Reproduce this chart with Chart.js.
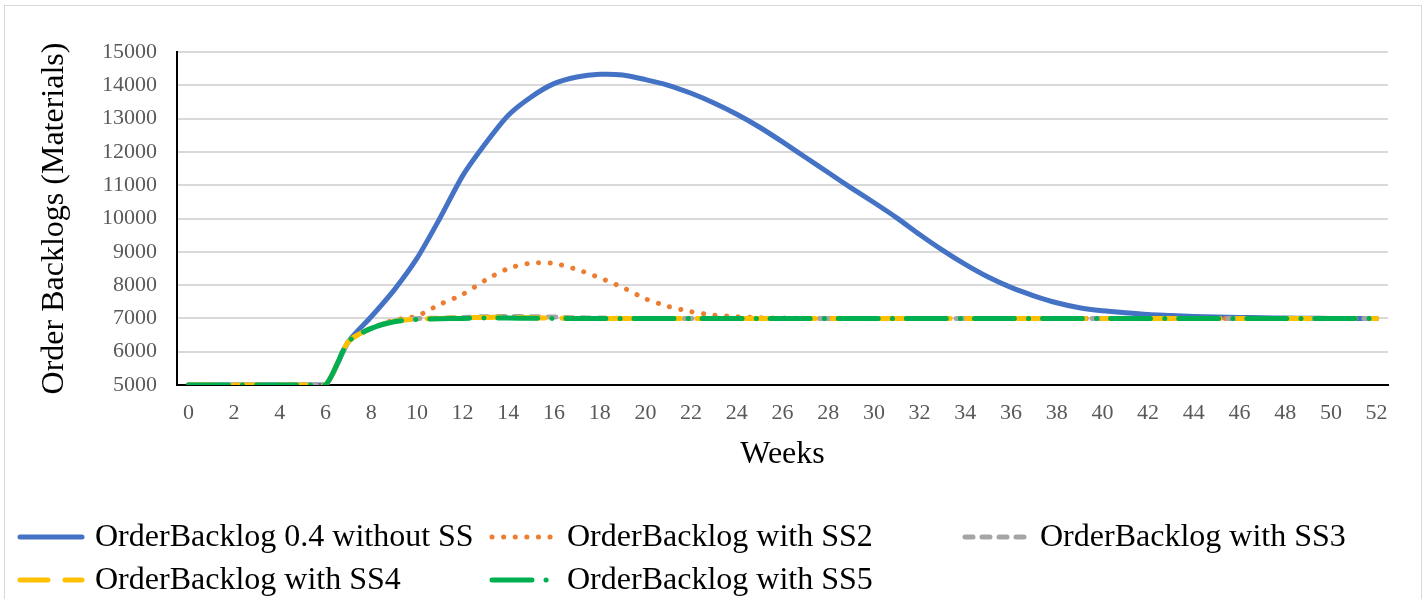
<!DOCTYPE html>
<html>
<head>
<meta charset="utf-8">
<script src="https://cdn.jsdelivr.net/npm/chart.js@4/dist/chart.umd.min.js"></script>
<style>
  html, body { margin:0; padding:0; background:#fff; }
  #wrap { position:relative; width:1428px; height:599px; }
  #frame { position:absolute; left:4px; top:5px; width:1418px; height:620px; border:1.5px solid #d9d9d9; box-sizing:border-box; pointer-events:none; }
</style>
</head>
<body>
<div id="wrap">
  <canvas id="backlog" width="1428" height="599"></canvas>
  <div id="frame"></div>
</div>
<script>
// ==== Data ====
const WEEKS = Array.from({ length: 53 }, (_, i) => String(i));

const NO_SS = [5000,5000,5000,5000,5000,5000,5000,6300,7050,7850,
  8800,10000,11280,12250,13100,13650,14050,14250,14330,14310,
  14170,14000,13760,13470,13130,12740,12300,11840,11380,10920,
  10480,10020,9520,9050,8620,8240,7930,7680,7470,7320,
  7230,7170,7120,7090,7060,7040,7030,7020,7010,7005,
  7000,7000,7000];

const SS2 = [5000,5000,5000,5000,5000,5000,5000,6300,6700,6950,
  7070,7420,7720,8150,8500,8660,8650,8470,8220,7930,
  7590,7360,7200,7100,7050,7020,7010,7000,7000,7000,
  7000,7000,7000,7000,7000,7000,7000,7000,7000,7000,
  7000,7000,7000,7000,7000,7000,7000,7000,7000,7000,
  7000,7000,7000];

const SS3 = [5000,5000,5000,5000,5000,5000,5000,6300,6700,6920,
  6990,7010,7030,7050,7060,7050,7040,7020,7010,7000,
  7000,7000,7000,7000,7000,7000,7000,7000,7000,7000,
  7000,7000,7000,7000,7000,7000,7000,7000,7000,7000,
  7000,7000,7000,7000,7000,7000,7000,7000,7000,7000,
  7000,7000,7000];

const SS4 = [5000,5000,5000,5000,5000,5000,5000,6300,6700,6910,
  6980,7000,7020,7030,7030,7020,7010,7000,7000,7000,
  7000,7000,7000,7000,7000,7000,7000,7000,7000,7000,
  7000,7000,7000,7000,7000,7000,7000,7000,7000,7000,
  7000,7000,7000,7000,7000,7000,7000,7000,7000,7000,
  7000,7000,7000];

const SS5 = [5000,5000,5000,5000,5000,5000,5000,6300,6700,6900,
  6970,6990,7000,7010,7010,7005,7000,7000,7000,7000,
  7000,7000,7000,7000,7000,7000,7000,7000,7000,7000,
  7000,7000,7000,7000,7000,7000,7000,7000,7000,7000,
  7000,7000,7000,7000,7000,7000,7000,7000,7000,7000,
  7000,7000,7000];

const Y_MIN = 5000, Y_MAX = 15000, Y_STEP = 1000;

const SERIF = "'Liberation Serif', 'Times New Roman', serif";

// later series sit on top, so order counts down
function line(label, data, color, dash, order) {
  return {
    label, data, order,
    borderColor: color,
    backgroundColor: color,
    borderWidth: 5,
    borderDash: dash,
    borderCapStyle: "round",
    borderJoinStyle: "round",
    pointRadius: 0,
    tension: 0.25,
    fill: false
  };
}

// ==== Legend drawn under the axes, Excel-style lines ====
const LEGEND_SLOTS = [
  { x: 18,  y: 537 }, { x: 490, y: 537 }, { x: 963, y: 537 },
  { x: 18,  y: 580 }, { x: 490, y: 580 }
];

const lineLegend = {
  id: "lineLegend",
  afterDraw(chart) {
    const ctx = chart.ctx;
    chart.data.datasets.forEach((ds, i) => {
      const s = LEGEND_SLOTS[i];
      ctx.save();
      ctx.strokeStyle = ds.borderColor;
      ctx.lineWidth = ds.borderWidth;
      ctx.lineCap = "round";
      ctx.setLineDash(ds.borderDash || []);
      ctx.beginPath();
      ctx.moveTo(s.x + 2, s.y);
      ctx.lineTo(s.x + 64, s.y);
      ctx.stroke();
      ctx.setLineDash([]);
      ctx.fillStyle = "#000";
      ctx.font = `32px ${SERIF}`;
      ctx.textBaseline = "middle";
      ctx.fillText(ds.label, s.x + 77, s.y + 1);
      ctx.restore();
    });
  }
};

new Chart(document.getElementById("backlog"), {
  type: "line",
  data: {
    labels: WEEKS,
    datasets: [
      line("OrderBacklog 0.4 without SS", NO_SS, "#4472c4", [], 5),
      line("OrderBacklog with SS2", SS2, "#ed7d31", [0.1, 11.5], 4),
      line("OrderBacklog with SS3", SS3, "#a5a5a5", [8, 9], 3),
      line("OrderBacklog with SS4", SS4, "#ffc000", [28, 17], 2),
      line("OrderBacklog with SS5", SS5, "#00b050", [40, 14, 0.1, 14], 1)
    ]
  },
  options: {
    responsive: false,
    animation: false,
    layout: { padding: { left: 0, right: 40, top: 52, bottom: 0 } },
    plugins: { legend: { display: false }, tooltip: { enabled: false } },
    scales: {
      x: {
        type: "category",
        offset: true,
        grid: { display: false, drawTicks: false },
        border: { display: true, color: "#000", width: 2 },
        ticks: {
          autoSkip: false, maxRotation: 0, padding: 15,
          color: "#595959", font: { family: SERIF, size: 22 },
          callback: (v, i) => (i % 2 === 0 ? WEEKS[i] : "")
        },
        title: {
          display: true, text: "Weeks", color: "#000",
          font: { family: SERIF, size: 32 },
          padding: { top: 0, bottom: 125 }
        },
        afterFit: (s) => { s.height = 599 - 385; }
      },
      y: {
        min: Y_MIN, max: Y_MAX,
        grid: { color: "#d9d9d9", lineWidth: 2, drawTicks: false },
        border: { display: true, color: "#000", width: 2 },
        ticks: {
          stepSize: Y_STEP, padding: 20,
          color: "#595959", font: { family: SERIF, size: 22 },
          callback: (v) => String(v)
        },
        title: {
          display: true, text: "Order Backlogs (Materials)", color: "#000",
          font: { family: SERIF, size: 32 },
          padding: { top: 35, bottom: 0 }
        },
        afterFit: (s) => { s.width = 177; }
      }
    }
  },
  plugins: [lineLegend]
});
</script>
</body>
</html>
